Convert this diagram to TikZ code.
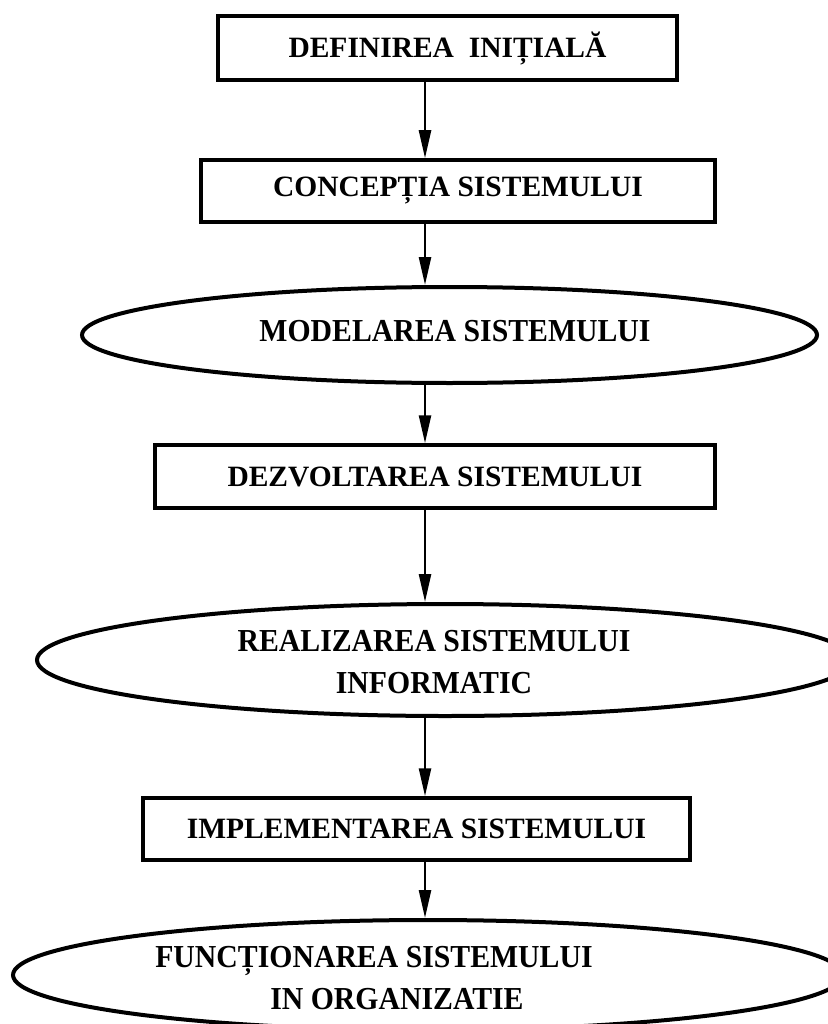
\documentclass[tikz,border=0pt]{standalone}
\usepackage{fontspec}
\setmainfont{Liberation Serif}
\newfontfamily\ellfont[FakeStretch=0.93]{Liberation Serif}
\usetikzlibrary{shapes.geometric,arrows.meta}
\begin{document}
\begin{tikzpicture}[x=1pt,y=-1pt,
  stagebox/.style={draw, line width=3.5pt, rectangle, inner sep=0pt,
    font=\fontsize{29.5}{32}\selectfont\bfseries},
  stageell/.style={draw, line width=4pt, ellipse, inner sep=0pt},
  elltext/.style={inner sep=0pt, align=left,
    font=\ellfont\fontsize{32}{42}\selectfont\bfseries},
  flow/.style={line width=2.5pt, -{Triangle[length=28pt,width=12pt]}}
]
\useasboundingbox (0,0) rectangle (827,1024);

% vertical axis of the connectors
\coordinate (ax) at (425,0);

% stages of the life cycle
\node[stagebox, minimum width=459pt, minimum height=64pt] (b1) at (447.5,48)
  {DEFINIREA\ \ INIȚIALĂ};
\node[stagebox, minimum width=514pt, minimum height=62pt] (b2) at (458,191)
  {CONCEPȚIA SISTEMULUI};
\node[stageell, minimum width=735pt, minimum height=96pt] (e1) at (449.5,335) {};
\node[elltext] (t1) at (455,331) {MODELAREA SISTEMULUI};
\node[stagebox, minimum width=560pt, minimum height=63pt] (b3) at (435,476.5)
  {DEZVOLTAREA SISTEMULUI};
\node[stageell, minimum width=816pt, minimum height=112pt] (e2) at (445,660) {};
\node[elltext, align=center] (t2) at (434,662) {REALIZAREA SISTEMULUI\\INFORMATIC};
\node[stagebox, minimum width=547pt, minimum height=62pt] (b4) at (416.5,829)
  {IMPLEMENTAREA SISTEMULUI};
\node[stageell, minimum width=830pt, minimum height=110pt] (e3) at (428,975) {};
\node[elltext] (t3) at (374,978)
  {FUNCȚIONAREA SISTEMULUI\\\hspace*{115pt}IN ORGANIZATIE};

% connectors
\draw[flow] (b1.south -| ax) -- (b2.north -| ax);
\draw[flow] (b2.south -| ax) -- (e1.north -| ax);
\draw[flow] (e1.south -| ax) -- (b3.north -| ax);
\draw[flow] (b3.south -| ax) -- (e2.north -| ax);
\draw[flow] (e2.south -| ax) -- (b4.north -| ax);
\draw[flow] (b4.south -| ax) -- (e3.north -| ax);
\end{tikzpicture}
\end{document}
